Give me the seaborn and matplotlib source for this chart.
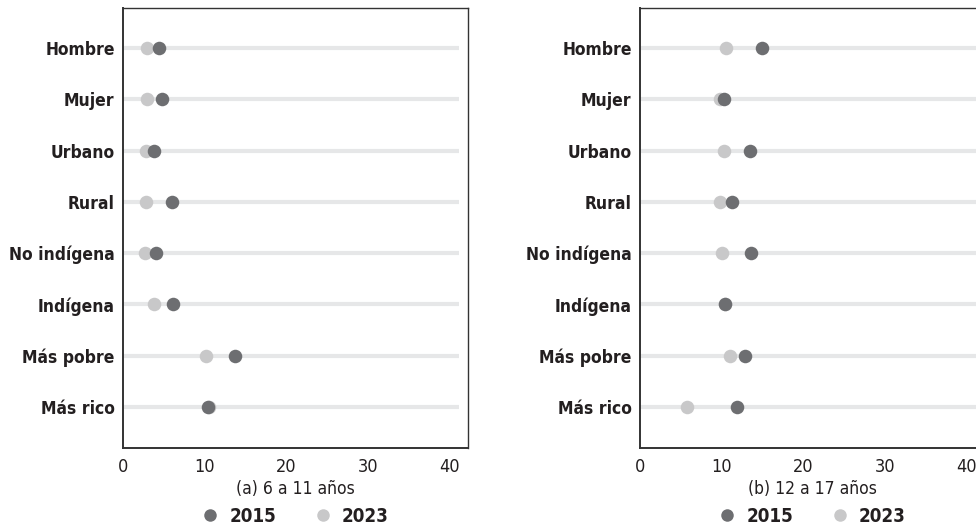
import pandas as pd
import seaborn as sns
import matplotlib.pyplot as plt
from matplotlib.lines import Line2D

# categories (top to bottom)
groups = ["Hombre", "Mujer", "Urbano", "Rural", "No indígena", "Indígena",
          "Más pobre", "Más rico"]

# (a) 6 a 11 años
a_2015 = [4.4, 4.8, 3.8, 6.0, 4.0, 6.1, 13.7, 10.4]
a_2023 = [2.9, 2.9, 2.8, 2.8, 2.7, 3.8, 10.2, 10.6]

# (b) 12 a 17 años
b_2015 = [15.0, 10.3, 13.5, 11.3, 13.6, 10.4, 12.9, 11.9]
b_2023 = [10.6, 9.8, 10.3, 9.8, 10.1, 10.4, 11.0, 5.8]

years = ["2015", "2023"]
xticks = [0, 10, 20, 30, 40]
subtitles = ["(a) 6 a 11 años", "(b) 12 a 17 años"]

DARK = "#6d6e71"
LIGHT = "#c8c8c9"
TRACK = "#e6e7e8"
TXT = "#231f20"


def build_frame(v2015, v2023):
    df = pd.DataFrame({"group": groups * 2,
                       "value": v2015 + v2023,
                       "year": ["2015"] * len(groups) + ["2023"] * len(groups)})
    return df


def panel(fig, ax, df, subtitle):
    ax.hlines(range(len(groups)), 0, 41.2, color=TRACK, lw=3, zorder=1)
    # light (2023) first so dark (2015) sits on top
    sns.scatterplot(data=df[df["year"] == "2023"], x="value", y="group",
                    color=LIGHT, s=95, linewidth=0, ax=ax, zorder=3)
    sns.scatterplot(data=df[df["year"] == "2015"], x="value", y="group",
                    color=DARK, s=95, linewidth=0, ax=ax, zorder=4)
    ax.set_xlim(0, 42.3)
    ax.set_ylim(len(groups) - 1 + 0.8, -0.78)
    ax.set_xticks(xticks)
    ax.set_xticklabels([str(t) for t in xticks], fontsize=13, color=TXT)
    ax.set_yticks(range(len(groups)))
    ax.set_yticklabels(groups, fontsize=12.5, fontweight="bold", color=TXT)
    ax.tick_params(axis="y", length=0, pad=6)
    ax.tick_params(axis="x", length=5, width=1.2, color="#333333", pad=2)
    ax.set_xlabel(subtitle, fontsize=12.5, color=TXT, labelpad=3)
    ax.set_ylabel("")
    ax.grid(False)
    for side in ["top", "right"]:
        ax.spines[side].set_linewidth(1.0)
        ax.spines[side].set_color("#333333")
    for side in ["left", "bottom"]:
        ax.spines[side].set_linewidth(1.4)
        ax.spines[side].set_color("#333333")

    handles = [Line2D([], [], ls="", marker="o", ms=9, mec="none", mfc=c)
               for c in [DARK, LIGHT]]
    pos = ax.get_position()
    cx = pos.x0 + 0.175
    leg = fig.legend(handles, years, loc="center",
                     bbox_to_anchor=(cx, 0.028), ncol=2, frameon=False,
                     prop={"size": 13.5, "weight": "bold"}, handletextpad=0.4,
                     columnspacing=1.9, handlelength=1.2, borderpad=0)
    for t in leg.get_texts():
        t.set_color(TXT)


def main():
    sns.set_style("white")
    plt.rcParams["font.family"] = ["DejaVu Sans"]
    plt.rcParams["font.stretch"] = "condensed"

    fig = plt.figure(figsize=(9.76, 5.31), dpi=100)
    ax1 = fig.add_axes([0.126, 0.1563, 0.3535, 0.8287])
    ax2 = fig.add_axes([0.6557, 0.1563, 0.3535, 0.8287])

    panel(fig, ax1, build_frame(a_2015, a_2023), subtitles[0])
    panel(fig, ax2, build_frame(b_2015, b_2023), subtitles[1])

    fig.savefig("out.png", dpi=100)


if __name__ == '__main__':
    main()
